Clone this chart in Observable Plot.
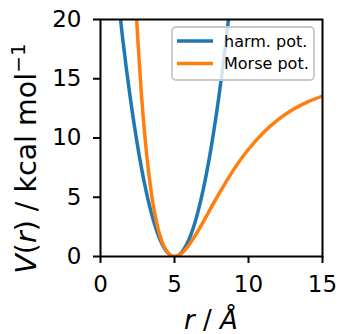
<!DOCTYPE html>
<html>
<head>
<meta charset="utf-8">
<script src="https://cdn.jsdelivr.net/npm/d3@7"></script>
<script src="https://cdn.jsdelivr.net/npm/@observablehq/plot@0.6"></script>
<style>
  body { margin: 0; background: #fff; }
  svg { display: block; }
</style>
</head>
<body>
<div id="chart"></div>
<script>
// Harmonic potential V(r) in kcal/mol, sampled in r (Å)
const rHarm = [1, 1.5, 2, 2.5, 3, 3.5, 4, 4.5, 5, 5.5, 6, 6.5, 7, 7.5, 8, 8.5, 9];
const vHarm = [24, 18.38, 13.5, 9.38, 6, 3.38, 1.5, 0.38, 0, 0.38, 1.5, 3.38, 6, 9.38, 13.5, 18.38, 24];

// Morse potential V(r) in kcal/mol
const rMorse = [2, 2.25, 2.5, 2.75, 3, 3.25, 3.5, 3.75, 4, 4.25, 4.5, 4.75, 5, 5.5, 6, 6.5, 7, 7.5, 8, 9, 10, 11, 12, 13, 14, 15];
const vMorse = [31.96, 24.65, 18.72, 13.94, 10.14, 7.15, 4.84, 3.11, 1.84, 0.96, 0.39, 0.09, 0, 0.29, 1.01, 1.97, 3.05, 4.18, 5.28, 7.33, 9.05, 10.45, 11.55, 12.4, 13.05, 13.54];

const seriesNames = ["harm. pot.", "Morse pot."];
const seriesColors = ["#1f77b4", "#ff7f0e"];
const xTicks = [0, 5, 10, 15];
const yTicks = [0, 5, 10, 15, 20];

const harm = rHarm.map((r, i) => ({r, v: vHarm[i]}));
const morse = rMorse.map((r, i) => ({r, v: vMorse[i]}));

const FONT = "DejaVu Sans";

const chart = Plot.plot({
  width: 339,
  height: 334,
  marginLeft: 100,
  marginRight: 17,
  marginTop: 19,
  marginBottom: 78,
  style: {fontFamily: FONT, background: "white", color: "black", overflow: "visible"},
  x: {domain: [0, 15]},
  y: {domain: [0, 20]},
  marks: [
    Plot.line(harm, {x: "r", y: "v", stroke: seriesColors[0], strokeWidth: 3.5, curve: "natural", clip: true}),
    Plot.line(morse, {x: "r", y: "v", stroke: seriesColors[1], strokeWidth: 3.5, curve: "natural", clip: true}),
    Plot.frame({stroke: "black", strokeWidth: 2}),
    Plot.axisX({ticks: xTicks, tickSize: 7, tickPadding: 12, fontSize: 23, strokeWidth: 2, label: null}),
    Plot.axisY({ticks: yTicks, tickSize: 7, tickPadding: 12, fontSize: 23, strokeWidth: 2, label: null})
  ]
});

document.getElementById("chart").appendChild(chart);

const svg = d3.select(chart);
const xs = chart.scale("x");
const ys = chart.scale("y");
const [x0, x1] = xs.range;
const [yBottom, yTop] = ys.range;

// Axis labels with math-style italics
const xLabel = svg.append("text")
  .attr("x", (x0 + x1) / 2)
  .attr("y", yBottom + 73)
  .attr("text-anchor", "middle")
  .attr("font-family", FONT)
  .attr("font-size", 26)
  .attr("fill", "black");
xLabel.append("tspan").attr("font-style", "italic").text("r");
xLabel.append("tspan").text(" / ");
xLabel.append("tspan").attr("font-style", "italic").text("Å");

const yLabel = svg.append("text")
  .attr("transform", `translate(36,${(yTop + yBottom) / 2 + 21}) rotate(-90)`)
  .attr("text-anchor", "middle")
  .attr("font-family", FONT)
  .attr("font-size", 28.5)
  .attr("fill", "black");
yLabel.append("tspan").attr("font-style", "italic").text("V");
yLabel.append("tspan").text("(");
yLabel.append("tspan").attr("font-style", "italic").text("r");
yLabel.append("tspan").text(") / kcal mol");
yLabel.append("tspan").attr("font-size", 20).attr("dy", -11).text("−1");

// Legend box in the upper right corner of the axes
const lg = svg.append("g").attr("font-family", FONT).attr("text-anchor", "start");
const boxW = 142, boxH = 53;
const bx = x1 - 8 - boxW, by = yTop + 8;
lg.append("rect")
  .attr("x", bx).attr("y", by).attr("width", boxW).attr("height", boxH)
  .attr("rx", 4)
  .attr("fill", "white").attr("fill-opacity", 0.8)
  .attr("stroke", "#c8c8c8").attr("stroke-width", 1.8);
seriesNames.forEach((name, i) => {
  const cy = by + 14 + i * 22.6;
  lg.append("line")
    .attr("x1", bx + 5).attr("x2", bx + 41)
    .attr("y1", cy).attr("y2", cy)
    .attr("stroke", seriesColors[i]).attr("stroke-width", 3.5);
  lg.append("text")
    .attr("x", bx + 52).attr("y", cy).attr("dy", "0.36em")
    .attr("text-anchor", "start")
    .attr("font-size", 16).attr("fill", "black")
    .text(name);
});
</script>
</body>
</html>
